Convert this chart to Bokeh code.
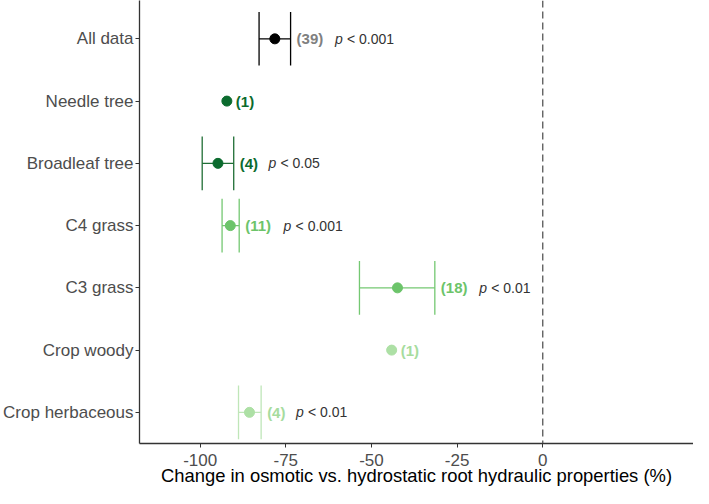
from bokeh.plotting import figure
from bokeh.models import ColumnDataSource, Span, FixedTicker, Range1d
from bokeh.core.properties import value
from bokeh.embed import file_html
from bokeh.resources import INLINE

# ---- data ----
categories = ["All data", "Needle tree", "Broadleaf tree", "C4 grass",
              "C3 grass", "Crop woody", "Crop herbaceous"]
means = [-78.2, -92.2, -94.8, -91.2, -42.4, -44.1, -85.6]
lowers = [-82.8, None, -99.4, -93.6, -53.5, None, -88.8]
uppers = [-73.6, None, -90.2, -88.6, -31.5, None, -82.2]
n_obs = [39, 1, 4, 11, 18, 1, 4]
p_values = ["< 0.001", "", "< 0.05", "< 0.001", "< 0.01", "", "< 0.01"]
groups = ["all", "tree", "tree", "grass", "grass", "crop", "crop"]
x_ticks = [-100, -75, -50, -25, 0]
x_title = "Change in osmotic vs. hydrostatic root hydraulic properties (%)"

# ---- styles ----
group_colors = {"all": "#000000", "tree": "#0b6b2e", "grass": "#6cc46a", "crop": "#ade0a5"}
bar_colors = {"all": "#000000", "tree": "#1f6e35", "grass": "#74c872", "crop": "#bfe6b8"}
label_colors = {"all": "#808080", "tree": "#0b6b2e", "grass": "#6cc46a", "crop": "#a6dc9e"}
FONT = "Liberation Sans"

k = len(categories)
ys = [k - i for i in range(k)]  # top to bottom

pt_colors = [group_colors[g] for g in groups]
src_pts = ColumnDataSource(dict(x=means, y=ys, c=pt_colors))

ci_idx = [i for i in range(k) if lowers[i] is not None]
cap = 0.43
src_ci = ColumnDataSource(dict(
    lo=[lowers[i] for i in ci_idx],
    hi=[uppers[i] for i in ci_idx],
    y=[ys[i] for i in ci_idx],
    y0=[ys[i] - cap for i in ci_idx],
    y1=[ys[i] + cap for i in ci_idx],
    c=[bar_colors[groups[i]] for i in ci_idx],
))

# labels
n_text = ["(%d)" % n for n in n_obs]
anchor = [uppers[i] if uppers[i] is not None else means[i] for i in range(k)]
n_off = [6 if uppers[i] is not None else 9 for i in range(k)]
src_n = ColumnDataSource(dict(x=anchor, y=ys, t=n_text, off=n_off,
                              c=[label_colors[g] for g in groups]))

p_idx = [i for i in range(k) if p_values[i]]
p_off = [n_off[i] + 9.6 * len(n_text[i]) for i in p_idx]
src_p = ColumnDataSource(dict(
    x=[anchor[i] for i in p_idx],
    y=[ys[i] for i in p_idx],
    off=p_off,
    off2=[o + 12 for o in p_off],
    t=[p_values[i] for i in p_idx],
    pt=["p" for _ in p_idx],
))

p = figure(width=693, height=488, output_backend="svg", toolbar_location=None,
           x_range=Range1d(-117.7, 44.0), y_range=Range1d(0.5, 7.616),
           min_border_left=135, min_border_right=0, min_border_top=0,
           min_border_bottom=30)
p.outline_line_color = None
p.xgrid.visible = False
p.ygrid.visible = False
p.background_fill_color = "white"
p.border_fill_color = "white"

p.add_layout(Span(location=0, dimension="height", line_color="#555555",
                  line_dash="7 4", line_width=1.3))

p.segment(x0="lo", y0="y", x1="hi", y1="y", source=src_ci, line_color="c", line_width=1.3)
p.segment(x0="lo", y0="y0", x1="lo", y1="y1", source=src_ci, line_color="c", line_width=1.3)
p.segment(x0="hi", y0="y0", x1="hi", y1="y1", source=src_ci, line_color="c", line_width=1.3)
p.scatter(x="x", y="y", source=src_pts, size=10, fill_color="c", line_color="c")

p.text(x="x", y="y", text="t", source=src_n, x_offset="off", text_color="c",
       text_font=value(FONT), text_font_size="15px", text_font_style="bold",
       text_align="left", text_baseline="middle")
p.text(x="x", y="y", text="pt", source=src_p, x_offset="off", text_color="#333333",
       text_font=value(FONT), text_font_size="14px", text_font_style="italic",
       text_align="left", text_baseline="middle")
p.text(x="x", y="y", text="t", source=src_p, x_offset="off2", text_color="#333333",
       text_font=value(FONT), text_font_size="14px",
       text_align="left", text_baseline="middle")

# axes
xa = p.xaxis[0]
xa.ticker = FixedTicker(ticks=x_ticks)
xa.major_label_overrides = {t: str(t) for t in x_ticks}
xa.minor_tick_line_color = None
xa.major_tick_in = 0
xa.major_tick_out = 4
xa.axis_line_color = "#333333"
xa.axis_line_width = 1.3
xa.major_tick_line_color = "#333333"
xa.major_label_text_font = FONT
xa.major_label_text_font_size = "17px"
xa.major_label_text_color = "#4d4d4d"
xa.major_label_standoff = 6
xa.axis_label = x_title
xa.axis_label_text_font = FONT
xa.axis_label_text_font_size = "18.4px"
xa.axis_label_text_font_style = "normal"
xa.axis_label_text_color = "#000000"
xa.axis_label_standoff = -4

ya = p.yaxis[0]
ya.ticker = FixedTicker(ticks=ys)
ya.major_label_overrides = {y: c for y, c in zip(ys, categories)}
ya.minor_tick_line_color = None
ya.major_tick_in = 0
ya.major_tick_out = 4
ya.axis_line_color = "#333333"
ya.axis_line_width = 1.3
ya.major_tick_line_color = "#333333"
ya.major_label_text_font = FONT
ya.major_label_text_font_size = "17px"
ya.major_label_text_color = "#4d4d4d"
ya.major_label_standoff = 2

open("out.html", "w").write(file_html(p, INLINE))
